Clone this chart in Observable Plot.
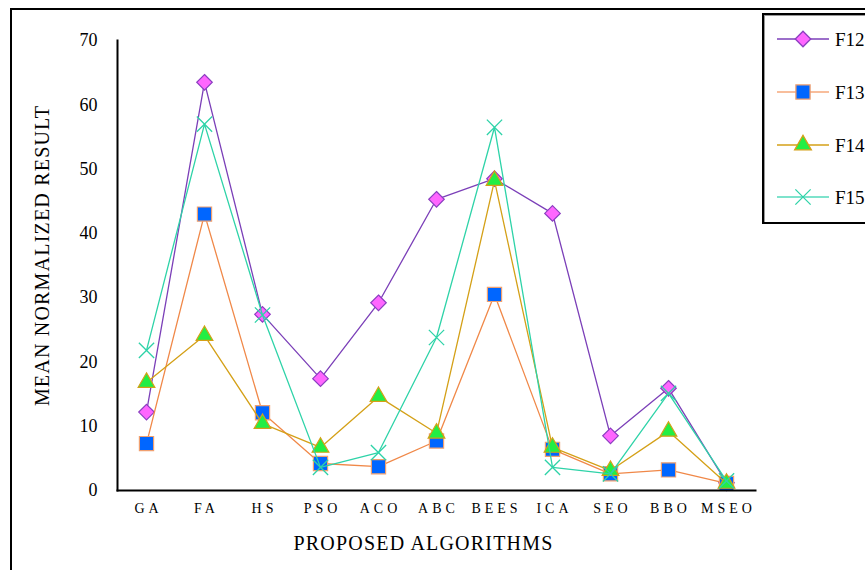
<!DOCTYPE html>
<html>
<head>
<meta charset="utf-8">
<script src="https://cdn.jsdelivr.net/npm/d3@7"></script>
<script src="https://cdn.jsdelivr.net/npm/@observablehq/plot@0.6"></script>
<style>
  html, body { margin: 0; padding: 0; background: #fff; overflow: hidden; }
  #wrap { position: relative; width: 865px; height: 570px; overflow: hidden; background: #fff; }
  #outer { position: absolute; left: 10px; top: 8px; width: 900px; height: 600px; border: 2px solid #000; box-sizing: border-box; pointer-events: none; }
  #chart { position: absolute; left: 0; top: 0; }
  #legend { position: absolute; left: 762px; top: 13px; width: 130px; height: 211px; border: 2px solid #000; box-shadow: inset 1px 1px 0 #999; background: #fff; box-sizing: border-box; }
  #chart g[aria-label="x-axis tick label"] text { letter-spacing: 4px; }
  #chart g[aria-label="text"] text { letter-spacing: 1.2px; }
</style>
</head>
<body>
<div id="wrap">
  <div id="outer"></div>
  <div id="chart"></div>
  <div id="legend"></div>
</div>
<script>
const algorithms = ["GA", "FA", "HS", "PSO", "ACO", "ABC", "BEES", "ICA", "SEO", "BBO", "MSEO"];
const F12 = [12.2, 63.5, 27.4, 17.4, 29.2, 45.3, 48.5, 43.1, 8.5, 15.9, 1.2];
const F13 = [7.3, 43.0, 12.1, 4.2, 3.7, 7.7, 30.5, 6.4, 2.6, 3.2, 1.1];
const F14 = [16.8, 24.1, 10.4, 6.7, 14.6, 8.9, 48.2, 6.7, 3.1, 9.2, 1.1];
const F15 = [21.8, 57.0, 27.3, 3.6, 5.9, 23.8, 56.5, 3.6, 2.6, 15.1, 1.5];
const yTicks = [0, 10, 20, 30, 40, 50, 60, 70];
const seriesNames = ["F12", "F13", "F14", "F15"];

const styles = {
  F12: {line: "#7B3FB8", fill: "#FF66FF", stroke: "#8B3FC0", symbol: "diamond2", r: 7, legendLine: "#7B3FB8", lw: 1.3},
  F13: {line: "#F08848", fill: "#0066FF", stroke: "#F0A070", symbol: "square", r: 8, legendLine: "#F8BE9C", lw: 1.3},
  F14: {line: "#D4A017", fill: "#22EE44", stroke: "#D4A017", symbol: "triangle", r: 6.2, legendLine: "#D4A017", lw: 1.3},
  F15: {line: "#2ED3A8", fill: "none", stroke: "#2ED3A8", symbol: "times", r: 7, legendLine: "#7EE3CC", lw: 1.3}
};
const values = {F12, F13, F14, F15};

const data = seriesNames.flatMap(s => algorithms.map((a, i) => ({series: s, alg: a, value: values[s][i]})));

const marks = [];
for (const s of seriesNames) {
  const st = styles[s];
  const d = data.filter(r => r.series === s);
  marks.push(Plot.line(d, {x: "alg", y: "value", stroke: st.line, strokeWidth: st.lw}));
  marks.push(Plot.dot(d, {x: "alg", y: "value", symbol: () => st.symbol, r: st.r,
    fill: st.fill, stroke: st.stroke, strokeWidth: st.symbol === "times" ? 1.3 : 1.2}));
}

const chart = Plot.plot({
  width: 865,
  height: 570,
  marginLeft: 117,
  marginRight: 110,
  marginTop: 40,
  marginBottom: 80,
  style: {fontFamily: "'Liberation Serif', 'Times New Roman', serif", background: "transparent", color: "#000"},
  x: {type: "point", domain: algorithms, padding: 0.5, label: null},
  y: {domain: [0, 70], label: null},
  symbol: {type: "identity"},
  marks: [
    Plot.axisY({ticks: yTicks, tickSize: 0, tickPadding: 20, fontSize: 18, label: null}),
    Plot.axisX({tickSize: 0, tickPadding: 13, fontSize: 14, label: null, dx: 2}),
    Plot.text(["MEAN NORMALIZED RESULT"], {frameAnchor: "left", textAnchor: "middle", dx: -75, dy: -10, rotate: -90, fontSize: 20, fill: "#000"}),
    Plot.text(["PROPOSED ALGORITHMS"], {frameAnchor: "bottom", textAnchor: "middle", dx: -13, dy: 59, fontSize: 20, fill: "#000"}),
    ...marks,
    Plot.frame({anchor: "left", strokeWidth: 2, stroke: "#000"}),
    Plot.frame({anchor: "bottom", strokeWidth: 2, stroke: "#000"})
  ]
});
document.getElementById("chart").appendChild(chart);

// Legend
const lg = d3.select("#legend").append("svg").attr("width", 128).attr("height", 209);
const rows = [24, 77, 130, 182];
seriesNames.forEach((s, i) => {
  const st = styles[s];
  const y = rows[i];
  lg.append("line").attr("x1", 13).attr("x2", 65).attr("y1", y).attr("y2", y)
    .attr("stroke", st.legendLine).attr("stroke-width", (s === "F13" || s === "F15") ? 2 : 1.3);
  const symMap = {diamond2: d3.symbolDiamond2, square: d3.symbolSquare, triangle: d3.symbolTriangle, times: d3.symbolTimes};
  lg.append("path").attr("transform", `translate(39,${y})`)
    .attr("d", d3.symbol(symMap[st.symbol], Math.PI * st.r * st.r)())
    .attr("fill", st.fill).attr("stroke", st.stroke).attr("stroke-width", 1.3);
  lg.append("text").attr("x", 71).attr("y", y).attr("dy", "0.35em")
    .attr("font-family", "'Liberation Serif', serif").attr("font-size", 19).text(s);
});
</script>
</body>
</html>
